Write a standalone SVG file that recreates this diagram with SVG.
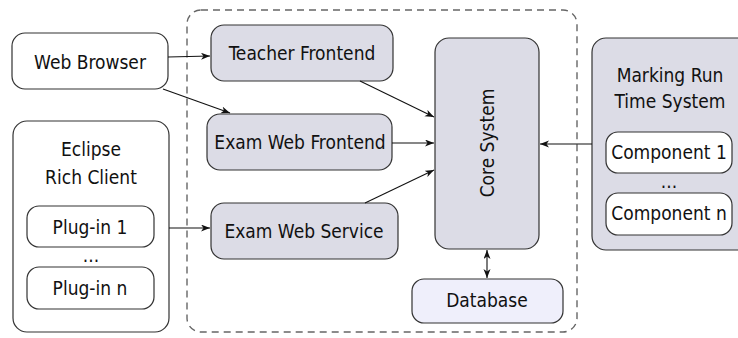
<svg xmlns="http://www.w3.org/2000/svg" width="738" height="338" viewBox="0 0 738 338">
<defs>
<marker id="ah" markerUnits="userSpaceOnUse" markerWidth="10" markerHeight="8" refX="9" refY="3.5" orient="auto-start-reverse">
<path d="M0,0 L9,3.5 L0,7 L2.5,3.5 z" fill="#111"/>
</marker>
</defs>
<style>
text{font-family:"DejaVu Sans Condensed","DejaVu Sans",sans-serif;font-stretch:condensed;font-size:19px;fill:#111;text-anchor:middle}
.w{fill:#fff;stroke:#333;stroke-width:1.2}
.g{fill:#dcdce6;stroke:#333;stroke-width:1.2}
.d{fill:#efeffb;stroke:#333;stroke-width:1.2}
.c line{stroke:#111;stroke-width:1.1;marker-end:url(#ah)}
</style>
<rect id="container" x="187" y="10" width="390" height="322" rx="14" fill="none" stroke="#666" stroke-width="1.4" stroke-dasharray="7,5"/>
<g id="web-browser"><rect class="w" x="12" y="33" width="156" height="56" rx="13"/><text x="90" y="69">Web Browser</text></g>
<g id="eclipse"><rect class="w" x="13" y="121" width="156" height="211" rx="14"/><text x="91" y="156">Eclipse</text><text x="91" y="184">Rich Client</text><text x="91" y="262">...</text></g>
<g id="plugin-1"><rect class="w" x="27" y="206" width="127" height="41" rx="12"/><text x="90" y="234">Plug-in 1</text></g>
<g id="plugin-n"><rect class="w" x="27" y="267" width="127" height="42" rx="12"/><text x="90" y="295">Plug-in n</text></g>
<g id="teacher-frontend"><rect class="g" x="211" y="25" width="182" height="56" rx="13"/><text x="302" y="60">Teacher Frontend</text></g>
<g id="exam-web-frontend"><rect class="g" x="207" y="114" width="185" height="56" rx="13"/><text x="300" y="149">Exam Web Frontend</text></g>
<g id="exam-web-service"><rect class="g" x="211" y="203" width="187" height="56" rx="13"/><text x="304" y="238">Exam Web Service</text></g>
<g id="core-system"><rect class="g" x="435" y="38" width="104" height="211" rx="14"/><text x="487" y="143" transform="rotate(-90 487 143)" dy="7">Core System</text></g>
<g id="database"><rect class="d" x="412" y="279" width="151" height="44" rx="12"/><text x="487" y="307">Database</text></g>
<g id="marking"><rect class="g" x="592" y="38" width="160" height="212" rx="14"/><text x="670" y="82">Marking Run</text><text x="670" y="108">Time System</text><text x="669" y="188">...</text></g>
<g id="component-1"><rect class="w" x="606" y="132" width="126" height="41" rx="12"/><text x="669" y="159">Component 1</text></g>
<g id="component-n"><rect class="w" x="606" y="193" width="126" height="42" rx="12"/><text x="669" y="220">Component n</text></g>
<g id="connectors" class="c">
<line x1="168" y1="57" x2="210" y2="56"/>
<line x1="163" y1="89" x2="230" y2="113"/>
<line x1="360" y1="81" x2="434" y2="117"/>
<line x1="392" y1="143" x2="434" y2="143"/>
<line x1="365" y1="203" x2="434" y2="170"/>
<line x1="592" y1="144" x2="540" y2="144"/>
<line x1="169" y1="228" x2="210" y2="228"/>
<line x1="487" y1="250" x2="487" y2="278" style="marker-start:url(#ah)"/>
</g>
</svg>
